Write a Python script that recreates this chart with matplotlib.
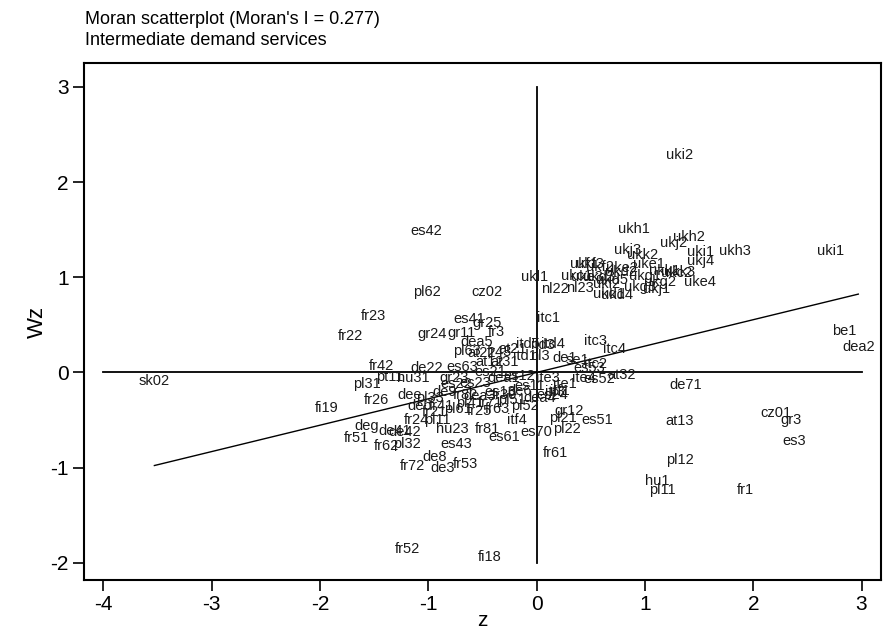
import numpy as np
import matplotlib
matplotlib.use("Agg")
import matplotlib.pyplot as plt

plt.rcParams['font.family'] = ['Liberation Sans', 'DejaVu Sans']
plt.rcParams['axes.unicode_minus'] = False

# region labels with standardised value (z) and spatial lag (Wz)
labels = [
    "uki2", "ukh1", "ukh2", "ukj2", "ukj3", "ukk2", "uki1", "ukh3", "uki1", "ukj4",
    "uke1", "ukf3", "uke2", "ukl1", "nl22", "nl23", "uke3", "ukd5", "ukc2", "uke4",
    "ukj1", "ukd1", "ukf1", "ukf2", "ukc1", "ukd3", "ukd2", "ukg1", "ukk1", "ukg2",
    "ukk3", "ukg3", "ukd4", "ukl2",
    "es42", "pl62", "cz02", "fr23", "fr22", "gr24", "es41", "gr25", "fr3", "gr11",
    "dea5", "itc1", "itc3", "itc4", "itc2", "at32", "es52", "es51", "gr12", "es24",
    "pl21", "pl22", "es70", "es61", "fr81", "itf4", "fr61", "de71", "at13", "cz01",
    "gr3", "es3", "pl12", "hu1", "pl11", "fr1", "be1", "dea2", "sk02", "fi19",
    "fr26", "pl31", "fr42", "pt11", "hu31", "de22", "es22", "deg", "fr51", "fr62",
    "pl32", "fr24", "pl11", "hu23", "es43", "de8", "fr72", "de3", "fr53", "fr52",
    "fi18",
    "pl63", "at22", "fr43", "at21", "itd5", "itd3", "itd4", "nl3", "itd1", "de1",
    "se1", "es53", "at31", "at12",
    "es63", "gr23", "es21", "es23", "dea1", "es12", "ite3", "ite1", "ite4", "itf3",
    "de6", "es13", "dea3", "pl51", "pl41", "pl61", "fr41", "fr25", "fr63", "pl52",
    "dea4", "itf1", "fr82", "fr71", "fr30", "es11", "de9", "pl33", "deb", "dee",
    "fr21", "de42", "de41",
]
z = [
    1.32, 0.90, 1.41, 1.26, 0.84, 0.98, 1.51, 1.83, 2.71, 1.51,
    1.04, 0.49, 0.79, -0.02, 0.17, 0.40, 0.46, 0.70, 1.29, 1.51,
    1.11, 0.67, 0.44, 0.58, 0.37, 0.58, 0.78, 1.00, 1.18, 1.14,
    1.32, 0.95, 0.74, 0.65,
    -1.02, -1.01, -0.46, -1.51, -1.72, -0.97, -0.62, -0.46, -0.37, -0.69,
    -0.55, 0.11, 0.54, 0.72, 0.54, 0.78, 0.58, 0.56, 0.30, 0.14,
    0.24, 0.28, 0.00, -0.30, -0.45, -0.18, 0.17, 1.38, 1.32, 2.21,
    2.35, 2.38, 1.32, 1.11, 1.16, 1.93, 2.84, 2.97, -3.53, -1.94,
    -1.48, -1.57, -1.43, -1.36, -1.14, -1.02, -0.74, -1.57, -1.66, -1.39,
    -1.20, -1.11, -0.92, -0.78, -0.74, -0.94, -1.15, -0.87, -0.66, -1.19,
    -0.43,
    -0.64, -0.51, -0.34, -0.22, -0.08, 0.06, 0.15, 0.03, -0.11, 0.26,
    0.38, 0.49, -0.30, -0.43,
    -0.69, -0.76, -0.43, -0.57, -0.30, -0.16, 0.10, 0.26, 0.44, 0.17,
    -0.16, -0.34, -0.53, -0.23, -0.62, -0.73, -0.88, -0.53, -0.36, -0.11,
    0.03, 0.21, -0.66, -0.43, -0.30, -0.06, -0.85, -0.99, -1.08, -1.17,
    -0.94, -1.22, -1.31,
]
wz = [
    2.28, 1.51, 1.42, 1.36, 1.29, 1.23, 1.27, 1.28, 1.28, 1.17,
    1.14, 1.14, 1.10, 1.00, 0.88, 0.89, 1.00, 0.97, 1.04, 0.95,
    0.88, 0.82, 1.14, 1.11, 1.01, 1.00, 1.05, 1.01, 1.07, 0.95,
    1.05, 0.90, 0.81, 0.93,
    1.49, 0.85, 0.84, 0.59, 0.38, 0.40, 0.56, 0.52, 0.42, 0.41,
    0.32, 0.57, 0.33, 0.25, 0.09, -0.03, -0.07, -0.50, -0.40, -0.24,
    -0.48, -0.59, -0.63, -0.68, -0.59, -0.50, -0.85, -0.13, -0.51, -0.43,
    -0.50, -0.72, -0.92, -1.14, -1.24, -1.23, 0.43, 0.27, -0.09, -0.37,
    -0.29, -0.12, 0.07, -0.05, -0.06, 0.05, -0.12, -0.56, -0.69, -0.77,
    -0.75, -0.50, -0.50, -0.59, -0.75, -0.89, -0.98, -1.00, -0.96, -1.85,
    -1.94,
    0.23, 0.20, 0.21, 0.25, 0.30, 0.29, 0.30, 0.17, 0.17, 0.15,
    0.13, 0.05, 0.11, 0.11,
    0.06, -0.06, 0.00, -0.11, -0.06, -0.04, -0.06, -0.12, -0.06, -0.21,
    -0.19, -0.21, -0.25, -0.29, -0.32, -0.38, -0.35, -0.40, -0.38, -0.35,
    -0.27, -0.19, -0.24, -0.32, -0.24, -0.14, -0.21, -0.27, -0.35, -0.24,
    -0.42, -0.63, -0.61,
]
morans_i = 0.277

fig = plt.figure(figsize=(8.86, 6.34), dpi=100)
ax = fig.add_axes([0.0948, 0.0852, 0.8996, 0.8154])

for lab, x, y in zip(labels, z, wz):
    ax.text(x, y, lab, fontsize=10.5, ha="center", va="center", color="#1a1a1a")

# reference axes through the origin
ax.plot([-4, 3], [0, 0], color="black", lw=1.3)
ax.plot([0, 0], [-2, 3], color="black", lw=1.3)

# fitted line (slope = Moran's I)
xs = np.array([min(z), max(z)])
ax.plot(xs, morans_i * xs, color="black", lw=1.0)

ax.set_xlim(-4.18, 3.18)
ax.set_ylim(-2.18, 3.25)
ax.set_xticks(range(-4, 4))
ax.set_yticks(range(-2, 4))
ax.tick_params(direction="out", length=8, width=1.2, labelsize=15, pad=3)
for s in ax.spines.values():
    s.set_linewidth(1.5)
ax.set_xlabel("z", fontsize=15, labelpad=-2)
ax.set_ylabel("Wz", fontsize=16, labelpad=2)

fig.text(0.096, 0.982, "Moran scatterplot (Moran's I = 0.277)\nIntermediate demand services",
         fontsize=13, ha="left", va="top", linespacing=1.3)

fig.savefig("out.png", dpi=100)
